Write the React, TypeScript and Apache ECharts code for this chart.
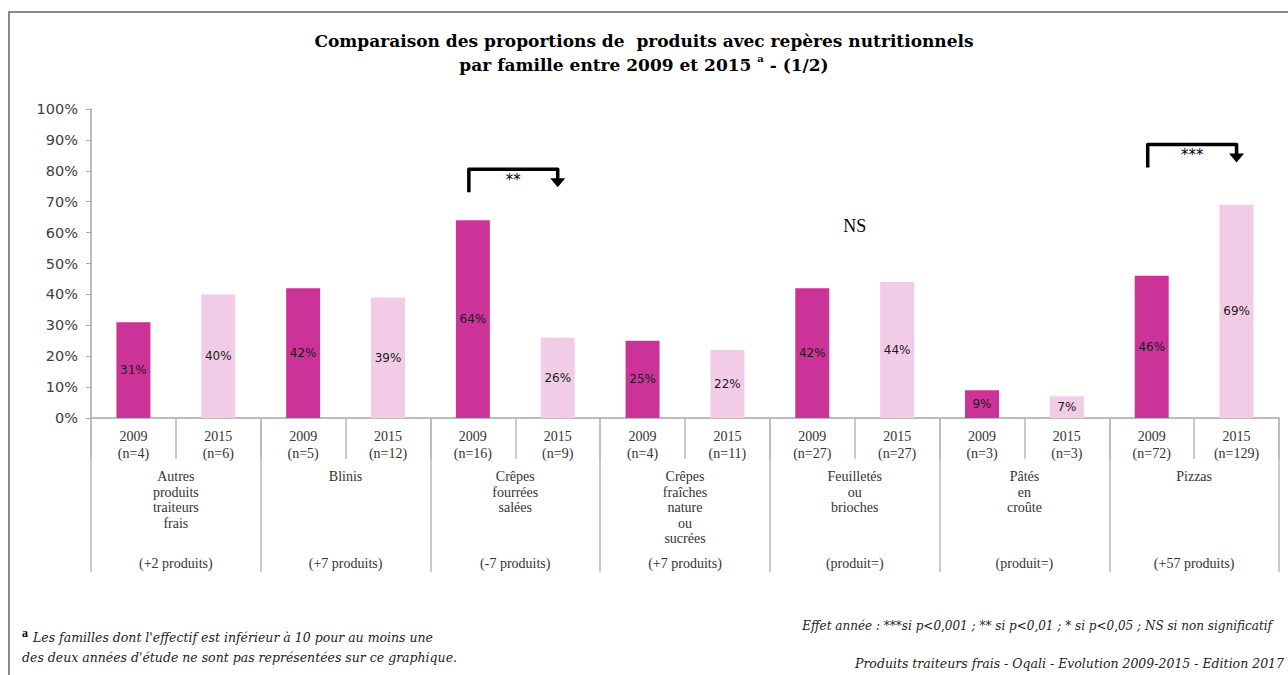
import React, { useEffect, useRef } from "react";
import * as echarts from "echarts";

const families = [
  "Autres\nproduits\ntraiteurs\nfrais",
  "Blinis",
  "Crêpes\nfourrées\nsalées",
  "Crêpes\nfraîches\nnature\nou\nsucrées",
  "Feuilletés\nou\nbrioches",
  "Pâtés\nen\ncroûte",
  "Pizzas",
];
const productChange = [
  "(+2 produits)",
  "(+7 produits)",
  "(-7 produits)",
  "(+7 produits)",
  "(produit=)",
  "(produit=)",
  "(+57 produits)",
];
const n2009 = [4, 5, 16, 4, 27, 3, 72];
const n2015 = [6, 12, 9, 11, 27, 3, 129];
const values2009 = [31, 42, 64, 25, 42, 9, 46];
const values2015 = [40, 39, 26, 22, 44, 7, 69];
const yTicks = { min: 0, max: 100, interval: 10 };

// significance annotations: family index, label, bracket level (%)
const sigFamily = [2, 6];
const sigLabel = ["**", "***"];
const sigLevel = [80.5, 88.5];
const nsFamily = 4;
const nsLevel = 62;

const COLOR_2009 = "#CC3399";
const COLOR_2015 = "#F2CCE6";

export default function App() {
  const ref = useRef<HTMLDivElement>(null);

  useEffect(() => {
    if (!ref.current) return;
    const chart = echarts.init(ref.current, null, { renderer: "svg" });

    const cats: string[] = [];
    const s2009: any[] = [];
    const s2015: any[] = [];
    families.forEach((_, i) => {
      cats.push(`2009\n(n=${n2009[i]})`);
      cats.push(`2015\n(n=${n2015[i]})`);
      s2009.push(values2009[i], "-");
      s2015.push("-", values2015[i]);
    });

    const serif = "Liberation Serif";
    const wideSerif = "DejaVu Serif";
    const sans = "DejaVu Sans";

    const option: any = {
      animation: false,
      backgroundColor: "#fff",
      title: {
        left: "center",
        top: 24,
        text: "Comparaison des proportions de  produits avec repères nutritionnels\npar famille entre 2009 et 2015 {sup|a} - (1/2)",
        textStyle: {
          fontFamily: wideSerif,
          fontWeight: "bold",
          fontSize: 17,
          lineHeight: 24,
          color: "#000",
          rich: {
            sup: {
              fontFamily: wideSerif,
              fontWeight: "bold",
              fontSize: 10,
              verticalAlign: "top",
              padding: [0, 0, 8, 0],
              color: "#000",
            },
          },
        },
      },
      grid: { left: 91, right: 9, top: 109, bottom: 257, containLabel: false },
      xAxis: [
        {
          type: "category",
          data: cats,
          position: "bottom",
          axisLine: { show: true, lineStyle: { color: "#a6a6a6", width: 1.5 } },
          axisTick: { show: true, interval: 0, length: 41, lineStyle: { color: "#b8b8b8", width: 1.5 } },
          axisLabel: {
            interval: 0,
            margin: 10,
            fontFamily: serif,
            fontSize: 14,
            lineHeight: 17,
            color: "#333",
          },
        },
        {
          type: "category",
          data: families,
          position: "bottom",
          axisLine: { show: false },
          axisTick: { show: true, interval: 0, length: 154, lineStyle: { color: "#b8b8b8", width: 1.5 } },
          axisLabel: {
            interval: 0,
            margin: 51,
            fontFamily: serif,
            fontSize: 14,
            lineHeight: 15.5,
            color: "#333",
          },
        },
        {
          type: "category",
          data: productChange,
          position: "bottom",
          axisLine: { show: false },
          axisTick: { show: false },
          axisLabel: {
            interval: 0,
            margin: 138,
            fontFamily: serif,
            fontSize: 14,
            color: "#333",
          },
        },
      ],
      yAxis: {
        type: "value",
        min: yTicks.min,
        max: yTicks.max,
        interval: yTicks.interval,
        splitLine: { show: false },
        axisLine: { show: true, lineStyle: { color: "#a6a6a6", width: 1.5 } },
        axisTick: { show: true, length: 5, lineStyle: { color: "#a6a6a6" } },
        axisLabel: {
          formatter: "{value}%",
          fontFamily: sans,
          fontSize: 14.5,
          color: "#404040",
          margin: 13,
        },
      },
      series: [
        {
          name: "2009",
          type: "bar",
          stack: "s",
          data: s2009,
          barWidth: 34,
          itemStyle: { color: COLOR_2009 },
          label: {
            show: true,
            position: "inside",
            formatter: "{c}%",
            fontFamily: sans,
            fontSize: 12,
            color: "#1a1a1a",
          },
        },
        {
          name: "2015",
          type: "bar",
          stack: "s",
          data: s2015,
          barWidth: 34,
          itemStyle: { color: COLOR_2015 },
          label: {
            show: true,
            position: "inside",
            formatter: "{c}%",
            fontFamily: sans,
            fontSize: 12,
            color: "#1a1a1a",
          },
        },
      ],
    };

    chart.setOption(option);

    const px = (cat: number, val: number) =>
      chart.convertToPixel({ xAxisIndex: 0, yAxisIndex: 0 }, [cat, val]) as number[];

    const graphics: any[] = [
      {
        type: "rect",
        shape: { x: 9, y: 12, width: 1300, height: 700 },
        style: { fill: "none", stroke: "#8a8a8a", lineWidth: 2 },
        silent: true,
      },
    ];

    sigFamily.forEach((f, k) => {
      const a = px(f * 2, sigLevel[k]);
      const b = px(f * 2 + 1, sigLevel[k]);
      const xl = a[0] - 4;
      const xr = b[0];
      const yt = a[1];
      graphics.push({
        type: "polyline",
        shape: { points: [[xl, yt + 23], [xl, yt], [xr, yt], [xr, yt + 10]] },
        style: { stroke: "#000", lineWidth: 3.5, fill: "none", lineJoin: "round" },
      });
      graphics.push({
        type: "polygon",
        shape: { points: [[xr - 7.5, yt + 9], [xr + 7.5, yt + 9], [xr, yt + 18]] },
        style: { fill: "#000" },
      });
      graphics.push({
        type: "text",
        x: (xl + xr) / 2,
        y: yt + 3,
        style: {
          text: sigLabel[k],
          fontFamily: sans,
          fontSize: 15,
          fill: "#000",
          align: "center",
          verticalAlign: "top",
        },
      });
    });

    const n1 = px(nsFamily * 2, nsLevel);
    const n2 = px(nsFamily * 2 + 1, nsLevel);
    graphics.push({
      type: "text",
      x: (n1[0] + n2[0]) / 2,
      y: n1[1],
      style: {
        text: "NS",
        fontFamily: serif,
        fontSize: 18,
        fill: "#000",
        align: "center",
        verticalAlign: "middle",
      },
    });

    const foot = { fontFamily: wideSerif, fontStyle: "italic", fontSize: 12.5, fill: "#222", verticalAlign: "middle" };
    graphics.push(
      {
        type: "text",
        x: 22,
        y: 627,
        style: { text: "a", fontFamily: serif, fontWeight: "bold", fontSize: 12, fill: "#000", verticalAlign: "top" },
      },
      {
        type: "text",
        x: 33,
        y: 637,
        style: { ...foot, text: "Les familles dont l'effectif est inférieur à 10 pour au moins une" },
      },
      {
        type: "text",
        x: 22,
        y: 657,
        style: { ...foot, text: "des deux années d'étude ne sont pas représentées sur ce graphique." },
      },
      {
        type: "text",
        x: 1272,
        y: 626,
        style: {
          ...foot,
          fontSize: 12,
          text: "Effet année : ***si p<0,001 ; ** si p<0,01 ; * si p<0,05 ; NS si non significatif",
          align: "right",
        },
      },
      {
        type: "text",
        x: 1284,
        y: 663,
        style: {
          ...foot,
          text: "Produits traiteurs frais - Oqali - Evolution 2009-2015 - Edition 2017",
          align: "right",
        },
      }
    );

    chart.setOption({ graphic: graphics });

    return () => chart.dispose();
  }, []);

  return (
    <div
      ref={ref}
      style={{ position: "fixed", left: 0, top: 0, width: 1288, height: 675 }}
    />
  );
}
